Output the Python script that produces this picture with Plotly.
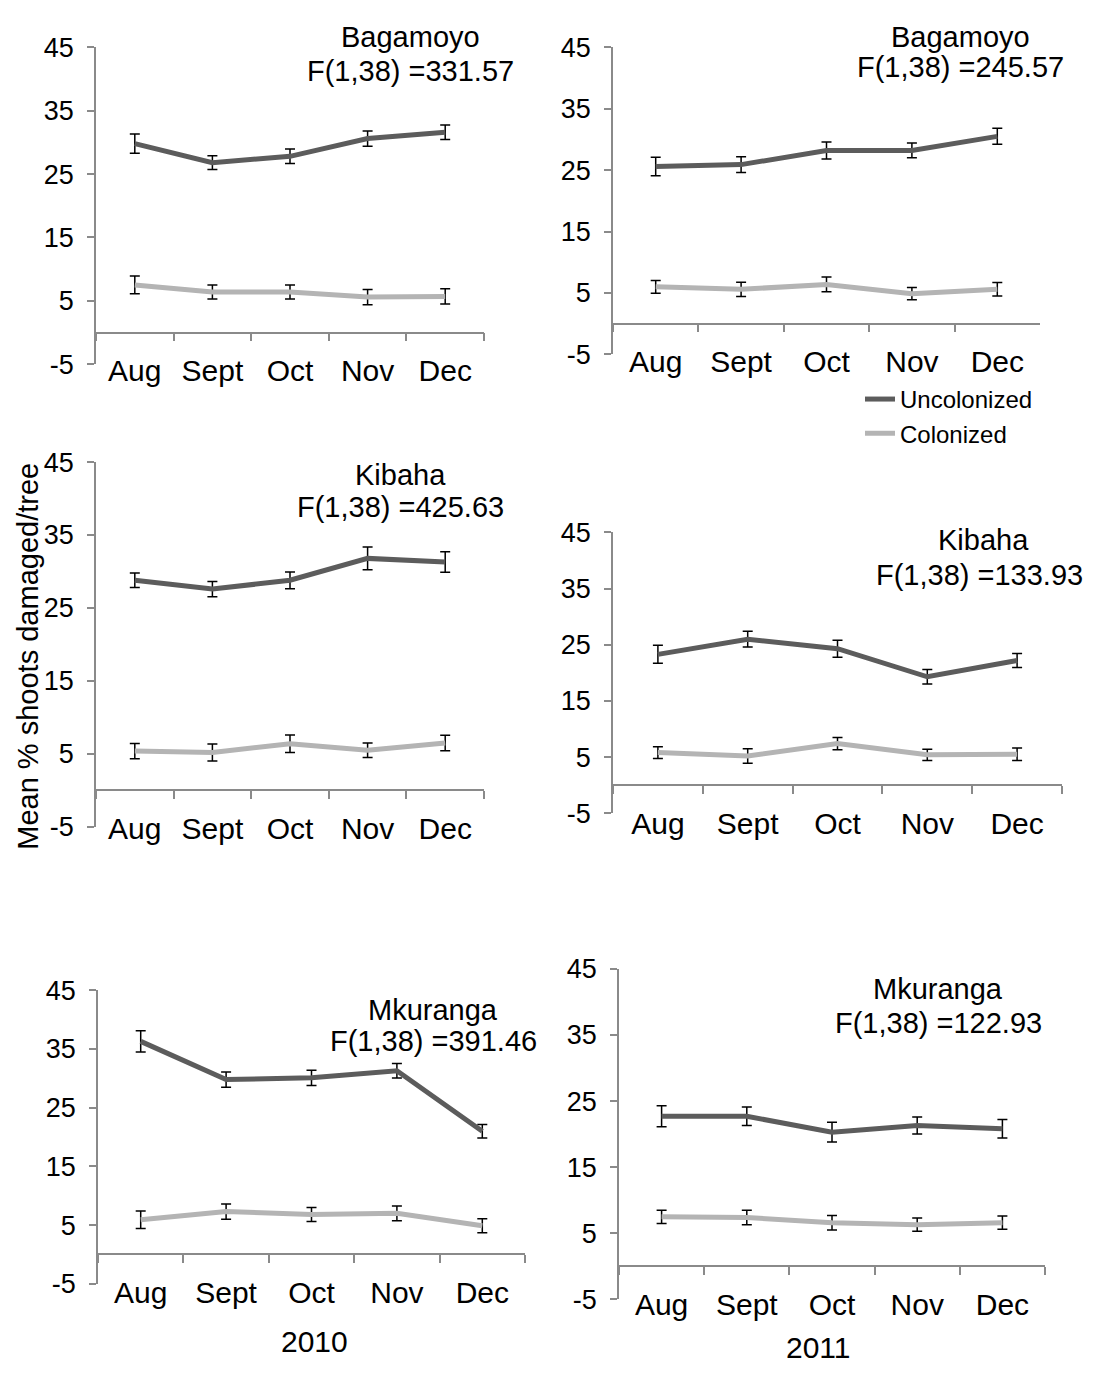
import plotly.graph_objects as go

# ---------------- data ----------------
months = ["Aug", "Sept", "Oct", "Nov", "Dec"]
series_names = ["Uncolonized", "Colonized"]
y_ticks = [-5, 5, 15, 25, 35, 45]

# Bagamoyo
bag2010_unc = [29.8, 26.8, 27.8, 30.6, 31.6]
bag2010_unc_err = [1.5, 1.1, 1.15, 1.2, 1.15]
bag2010_col = [7.5, 6.4, 6.4, 5.6, 5.7]
bag2010_col_err = [1.4, 1.1, 1.1, 1.2, 1.2]

bag2011_unc = [25.6, 25.9, 28.2, 28.2, 30.5]
bag2011_unc_err = [1.5, 1.3, 1.4, 1.2, 1.3]
bag2011_col = [6.0, 5.6, 6.4, 4.9, 5.6]
bag2011_col_err = [1.05, 1.15, 1.2, 1.0, 1.1]

# Kibaha
kib2010_unc = [28.8, 27.6, 28.8, 31.8, 31.3]
kib2010_unc_err = [1.0, 1.05, 1.15, 1.55, 1.4]
kib2010_col = [5.4, 5.2, 6.4, 5.5, 6.5]
kib2010_col_err = [1.05, 1.15, 1.2, 1.0, 1.07]

kib2011_unc = [23.3, 26.0, 24.3, 19.3, 22.2]
kib2011_unc_err = [1.6, 1.4, 1.5, 1.3, 1.25]
kib2011_col = [5.8, 5.2, 7.4, 5.4, 5.5]
kib2011_col_err = [1.05, 1.3, 1.1, 1.0, 1.1]

# Mkuranga
mku2010_unc = [36.3, 29.8, 30.1, 31.3, 21.0]
mku2010_unc_err = [1.8, 1.3, 1.3, 1.25, 1.15]
mku2010_col = [5.9, 7.3, 6.8, 7.0, 4.9]
mku2010_col_err = [1.5, 1.3, 1.2, 1.25, 1.2]

mku2011_unc = [22.7, 22.7, 20.3, 21.3, 20.8]
mku2011_unc_err = [1.6, 1.4, 1.5, 1.3, 1.4]
mku2011_col = [7.5, 7.4, 6.6, 6.3, 6.6]
mku2011_col_err = [1.0, 1.1, 1.1, 1.0, 1.0]

site_labels = ["Bagamoyo", "Bagamoyo", "Kibaha", "Kibaha", "Mkuranga", "Mkuranga"]
f_stats = ["F(1,38) =331.57", "F(1,38) =245.57", "F(1,38) =425.63",
           "F(1,38) =133.93", "F(1,38) =391.46", "F(1,38) =122.93"]
year_labels = ["2010", "2011"]
y_title = "Mean % shoots damaged/tree"

panel_data = [
    (bag2010_unc, bag2010_unc_err, bag2010_col, bag2010_col_err),
    (bag2011_unc, bag2011_unc_err, bag2011_col, bag2011_col_err),
    (kib2010_unc, kib2010_unc_err, kib2010_col, kib2010_col_err),
    (kib2011_unc, kib2011_unc_err, kib2011_col, kib2011_col_err),
    (mku2010_unc, mku2010_unc_err, mku2010_col, mku2010_col_err),
    (mku2011_unc, mku2011_unc_err, mku2011_col, mku2011_col_err),
]

# ---------------- layout geometry (pixels) ----------------
W, H = 1094, 1379
# x_left, x_right, y_top(45), y_bottom(-5)
geom = [
    (96, 484, 33, 357),
    (613, 1040, 33, 347),
    (96, 484, 457, 830),
    (613, 1062, 529, 816),
    (98, 525, 997, 1297),
    (619, 1045, 975, 1313),
]
# annotation centres (pixels): site, stat
ann_pos = [
    ((410, 22), (410, 57)),
    ((960, 22), (960, 53)),
    ((400, 470), (400, 503)),
    ((983, 537), (979, 572)),
    ((433, 1017), (433, 1049)),
    ((938, 996), (938, 1030)),
]
year_pos = [(314, 1356), (818, 1362)]

FONT = "Liberation Sans, Arial, sans-serif"
C_UNC = "#5c5c5c"
C_COL = "#b4b4b4"
AX = "#8a8a8a"
YMIN, YMAX = -5, 45

fig = go.Figure()
annotations = []

for i, (unc, unc_e, col, col_e) in enumerate(panel_data):
    k = i + 1
    xa = "x" if k == 1 else f"x{k}"
    ya = "y" if k == 1 else f"y{k}"
    for vals, errs, color, name in ((unc, unc_e, C_UNC, series_names[0]),
                                    (col, col_e, C_COL, series_names[1])):
        fig.add_trace(go.Scatter(
            x=months, y=vals, mode="lines", name=name,
            line=dict(color=color, width=5),
            error_y=dict(type="data", array=errs, visible=True,
                         color="black", thickness=1.5, width=5),
            xaxis=xa, yaxis=ya, showlegend=(k == 2), hoverinfo="skip"))

    xl, xr, yt, yb = geom[i]
    y_dom = [1 - yb / H, 1 - yt / H]
    zero_pos = y_dom[0] + (0 - YMIN) / (YMAX - YMIN) * (y_dom[1] - y_dom[0])
    xkey = "xaxis" if k == 1 else f"xaxis{k}"
    ykey = "yaxis" if k == 1 else f"yaxis{k}"
    fig.update_layout(**{
        xkey: dict(domain=[xl / W, xr / W], anchor="free", position=zero_pos,
                   type="category", categoryarray=months, categoryorder="array",
                   range=[-0.5, len(months) - 0.5], tickson="boundaries",
                   ticks="outside", ticklen=8, tickcolor=AX, tickwidth=1.5,
                   showline=True, linecolor=AX, linewidth=1.5,
                   showgrid=False, zeroline=False, ticklabelstandoff=12,
                   tickfont=dict(family=FONT, size=30, color="black")),
        ykey: dict(domain=y_dom, anchor=xa, range=[YMIN, YMAX],
                   tickvals=y_ticks, ticktext=[str(v) for v in y_ticks],
                   ticks="outside", ticklen=7,
                   tickcolor=AX, tickwidth=1.5, showline=True, linecolor=AX,
                   linewidth=1.5, showgrid=False, zeroline=False,
                   ticklabelstandoff=8,
                   tickfont=dict(family=FONT, size=27, color="black")),
    })
    (sx, sy), (fx, fy) = ann_pos[i]
    annotations.append(dict(text=site_labels[i], x=sx / W, y=1 - sy / H,
                            xref="paper", yref="paper", showarrow=False,
                            xanchor="center", yanchor="middle",
                            font=dict(family=FONT, size=29, color="black")))
    annotations.append(dict(text=f_stats[i], x=fx / W, y=1 - fy / H,
                            xref="paper", yref="paper", showarrow=False,
                            xanchor="center", yanchor="middle",
                            font=dict(family=FONT, size=29, color="black")))

for lbl, (px, py) in zip(year_labels, year_pos):
    annotations.append(dict(text=lbl, x=px / W, y=1 - py / H, xref="paper",
                            yref="paper", showarrow=False, xanchor="center",
                            yanchor="middle",
                            font=dict(family=FONT, size=30, color="black")))

annotations.append(dict(text=y_title, x=28 / W, y=1 - 656 / H, xref="paper",
                        yref="paper", showarrow=False, textangle=-90,
                        xanchor="center", yanchor="middle",
                        font=dict(family=FONT, size=29, color="black")))

fig.update_layout(
    width=W, height=H, margin=dict(l=0, r=0, t=0, b=0),
    paper_bgcolor="white", plot_bgcolor="white",
    annotations=annotations,
    legend=dict(x=860 / W, y=1 - 370 / H, xanchor="left", yanchor="top",
                bgcolor="rgba(0,0,0,0)", tracegroupgap=0,
                font=dict(family=FONT, size=24, color="black"),
                itemwidth=30),
)

fig.write_html("out.html",
               config={"displayModeBar": False},
               post_script="document.body.style.margin='0';"
                           "document.body.style.padding='0';")
